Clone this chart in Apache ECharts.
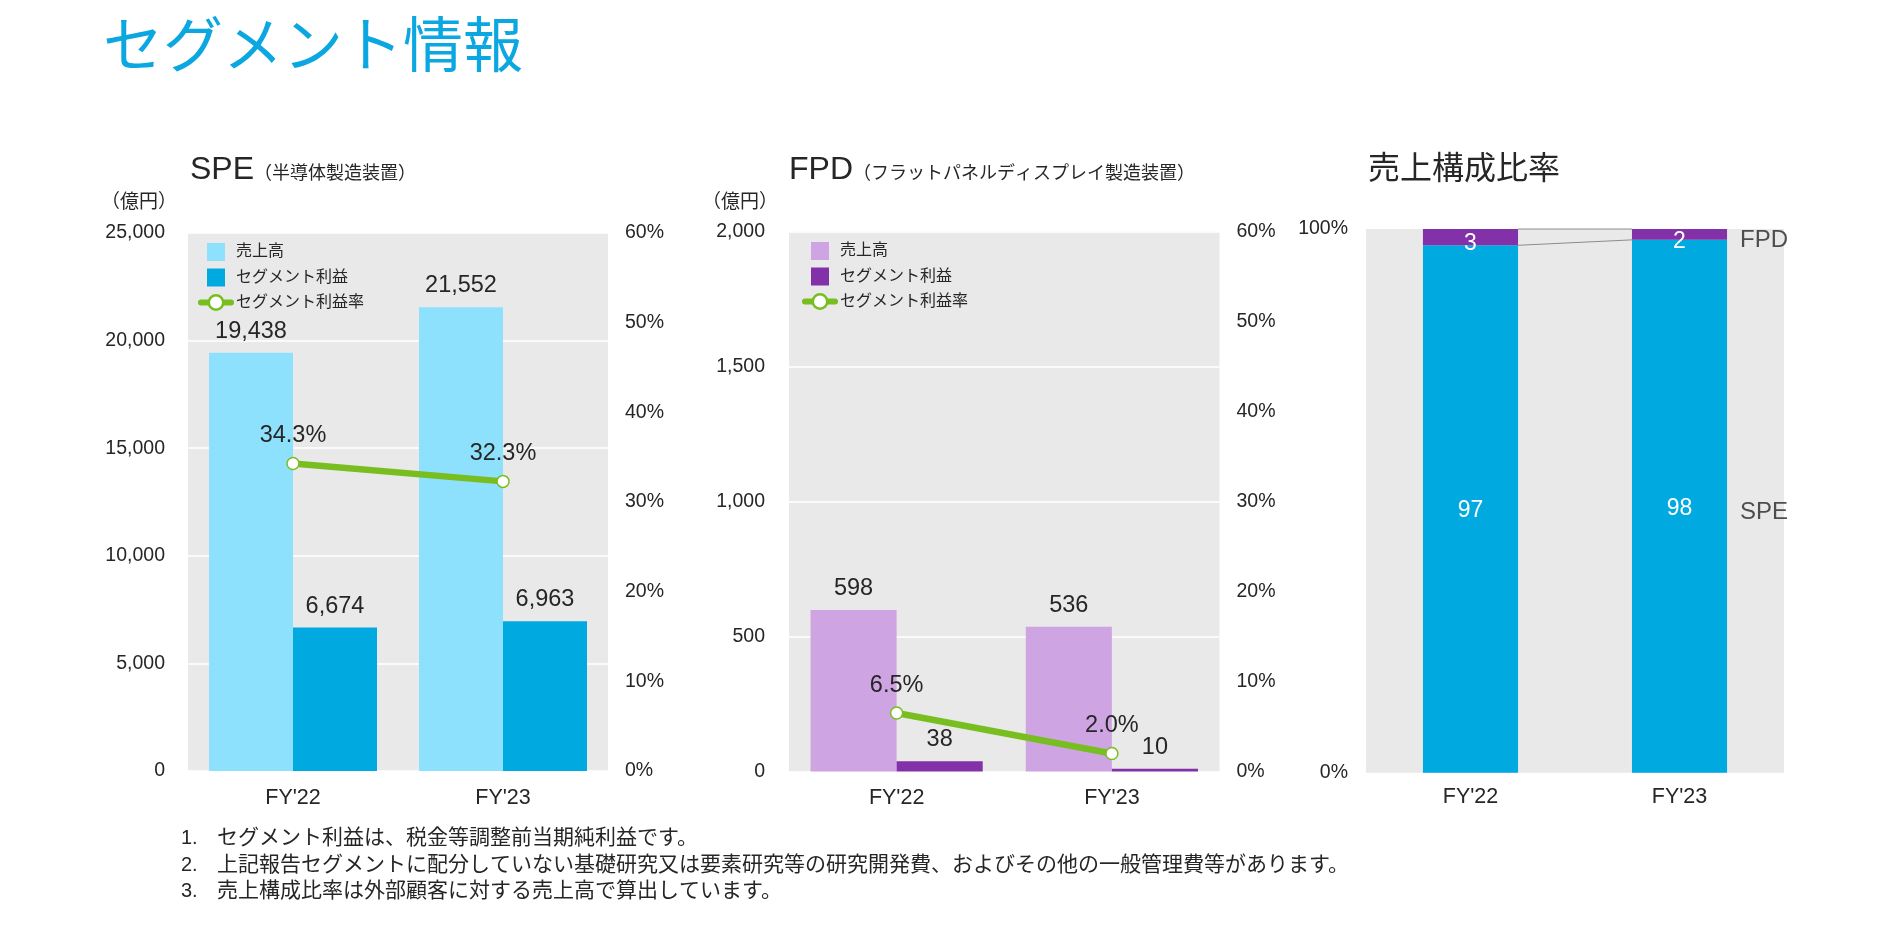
<!DOCTYPE html>
<html><head><meta charset="utf-8">
<script src="https://cdn.jsdelivr.net/npm/echarts@6/dist/echarts.min.js"></script>
<style>html,body{margin:0;padding:0;background:#fff}#c{width:1891px;height:928px}</style>
</head><body><div id="c"></div>
<script>
// ---- data ----
const categories = ["FY'22", "FY'23"];
const speSales = [19438, 21552];
const speProfit = [6674, 6963];
const speMargin = [34.3, 32.3];
const fpdSales = [598, 536];
const fpdProfit = [38, 10];
const fpdMargin = [6.5, 2.0];
const shareSPE = [97, 98];
const shareFPD = [3, 2];
const seriesNames = ['売上高', 'セグメント利益', 'セグメント利益率'];
const footnotes = [
  'セグメント利益は、税金等調整前当期純利益です。',
  '上記報告セグメントに配分していない基礎研究又は要素研究等の研究開発費、およびその他の一般管理費等があります。',
  '売上構成比率は外部顧客に対する売上高で算出しています。'
];

// ---- styles ----
const FF = '"Liberation Sans", Arial, "Noto Sans CJK JP", sans-serif';
const TXT = '#262626';
const C = {
  lightBlue: '#8EE1FD', blue: '#00A9E0',
  lightPurple: '#CFA4E3', purple: '#8231A8',
  green: '#78BE20', bg: '#E9E9E9', title: '#0AA7E0'
};
const fmt = v => Number(v).toLocaleString('en-US');

const chart = echarts.init(document.getElementById('c'));

function legendFor(lightCol, darkCol, left, top) {
  return {
    orient: 'vertical', left: left, top: top, padding: 0,
    itemWidth: 30, itemHeight: 18, itemGap: 7.5,
    textStyle: { fontSize: 16, color: TXT, fontFamily: FF },
    selectedMode: false,
    data: [
      { name: seriesNames[0], icon: 'path://M0,0H10V10H0Z', itemStyle: { color: lightCol } },
      { name: seriesNames[1], icon: 'path://M0,0H10V10H0Z', itemStyle: { color: darkCol } },
      { name: seriesNames[2], itemStyle: { color: '#fff', borderColor: C.green, borderWidth: 2.5 },
        lineStyle: { color: C.green, width: 6, cap: 'round' } }
    ]
  };
}

const barLabel = {
  show: true, position: 'top', distance: 9.5, fontSize: 23.5, color: TXT, fontFamily: FF,
  formatter: p => fmt(p.value)
};
const lineLabel = {
  show: true, position: 'top', distance: 9, fontSize: 23.5, color: TXT, fontFamily: FF,
  formatter: p => Number(p.value).toFixed(1) + '%'
};
const axisLbl = (extra) => Object.assign({ fontSize: 19.5, color: TXT, fontFamily: FF }, extra);
const catAxis = (gi, margin) => ({
  type: 'category', gridIndex: gi, data: categories,
  axisLine: { show: false }, axisTick: { show: false },
  axisLabel: { fontSize: 21.5, color: TXT, fontFamily: FF, margin: margin }
});

const option = {
  backgroundColor: '#fff',
  animation: false,
  grid: [
    { left: 188, top: 233, width: 420, height: 538, show: true, backgroundColor: C.bg, borderWidth: 0, outerBoundsMode: 'none' },
    { left: 789, top: 231.5, width: 430.5, height: 540, show: true, backgroundColor: C.bg, borderWidth: 0, outerBoundsMode: 'none' },
    { left: 1366, top: 229, width: 418, height: 543.7, show: true, backgroundColor: C.bg, borderWidth: 0, outerBoundsMode: 'none' }
  ],
  legend: [legendFor(C.lightBlue, C.blue, 198, 243), legendFor(C.lightPurple, C.purple, 802, 242)],
  xAxis: [catAxis(0, 16), catAxis(1, 16), catAxis(2, 14)],
  yAxis: [
    { type: 'value', gridIndex: 0, min: 0, max: 25000, interval: 5000,
      axisLine: { show: false }, axisTick: { show: false },
      axisLabel: axisLbl({ margin: 23, formatter: v => fmt(v) }),
      splitLine: { show: true, lineStyle: { color: '#fff', width: 1.5 } } },
    { type: 'value', gridIndex: 0, position: 'right', min: 0, max: 60, interval: 10,
      axisLine: { show: false }, axisTick: { show: false },
      axisLabel: axisLbl({ margin: 17, formatter: '{value}%' }), splitLine: { show: false } },
    { type: 'value', gridIndex: 1, min: 0, max: 2000, interval: 500,
      axisLine: { show: false }, axisTick: { show: false },
      axisLabel: axisLbl({ margin: 24, formatter: v => fmt(v) }),
      splitLine: { show: true, lineStyle: { color: '#fff', width: 1.5 } } },
    { type: 'value', gridIndex: 1, position: 'right', min: 0, max: 60, interval: 10,
      axisLine: { show: false }, axisTick: { show: false },
      axisLabel: axisLbl({ margin: 17, formatter: '{value}%' }), splitLine: { show: false } },
    { type: 'value', gridIndex: 2, min: 0, max: 100, interval: 100,
      axisLine: { show: false }, axisTick: { show: false },
      axisLabel: axisLbl({ margin: 18, formatter: '{value}%' }), splitLine: { show: false } }
  ],
  series: [
    // SPE
    { type: 'bar', name: seriesNames[0], xAxisIndex: 0, yAxisIndex: 0, data: speSales,
      barWidth: '40%', barGap: '0%', itemStyle: { color: C.lightBlue }, label: barLabel },
    { type: 'bar', name: seriesNames[1], xAxisIndex: 0, yAxisIndex: 0, data: speProfit,
      barWidth: '40%', barGap: '0%', itemStyle: { color: C.blue }, label: barLabel },
    { type: 'line', name: seriesNames[2], xAxisIndex: 0, yAxisIndex: 1, data: speMargin, z: 5,
      symbol: 'circle', symbolSize: 12,
      itemStyle: { color: '#fff', borderColor: C.green, borderWidth: 1.5 },
      lineStyle: { color: C.green, width: 6.5 }, label: lineLabel },
    // FPD
    { type: 'bar', name: seriesNames[0], xAxisIndex: 1, yAxisIndex: 2, data: fpdSales,
      barWidth: '40%', barGap: '0%', itemStyle: { color: C.lightPurple }, label: barLabel },
    { type: 'bar', name: seriesNames[1], xAxisIndex: 1, yAxisIndex: 2, data: fpdProfit,
      barWidth: '40%', barGap: '0%', itemStyle: { color: C.purple }, label: barLabel },
    { type: 'line', name: seriesNames[2], xAxisIndex: 1, yAxisIndex: 3, data: fpdMargin, z: 5,
      symbol: 'circle', symbolSize: 12,
      itemStyle: { color: '#fff', borderColor: C.green, borderWidth: 1.5 },
      lineStyle: { color: C.green, width: 6.5 }, label: lineLabel },
    // share
    { type: 'bar', name: 'SPE', xAxisIndex: 2, yAxisIndex: 4, stack: 'share', data: shareSPE,
      barWidth: '45.5%', itemStyle: { color: C.blue },
      label: { show: true, position: 'inside', color: '#fff', fontSize: 23, fontFamily: FF, offset: [0, 2] } },
    { type: 'bar', name: 'FPD', xAxisIndex: 2, yAxisIndex: 4, stack: 'share', data: shareFPD,
      barWidth: '45.5%', itemStyle: { color: C.purple },
      label: { show: true, position: 'inside', color: '#fff', fontSize: 23, fontFamily: FF, offset: [0, 7] } },
    { type: 'custom', xAxisIndex: 2, yAxisIndex: 4, z: 1,
      data: [[0, shareSPE[0] + shareFPD[0], shareSPE[1] + shareFPD[1], shareSPE[0], shareSPE[1]]],
      renderItem: (params, api) => {
        const hw = api.size([1, 0])[0] * 0.455 / 2;
        const a1 = api.coord([0, api.value(1)]), a2 = api.coord([1, api.value(2)]);
        const b1 = api.coord([0, api.value(3)]), b2 = api.coord([1, api.value(4)]);
        const st = { stroke: '#8C8C8C', lineWidth: 1 };
        return { type: 'group', children: [
          { type: 'line', shape: { x1: a1[0] + hw, y1: a1[1], x2: a2[0] - hw, y2: a2[1] }, style: st },
          { type: 'line', shape: { x1: b1[0] + hw, y1: b1[1], x2: b2[0] - hw, y2: b2[1] }, style: st }
        ]};
      } },
    { type: 'scatter', xAxisIndex: 2, yAxisIndex: 4, symbolSize: 1, silent: true,
      itemStyle: { color: 'rgba(0,0,0,0)' },
      data: [
        { value: [1, shareSPE[1] / 2], name: 'SPE' },
        { value: [1, shareSPE[1] + shareFPD[1] / 2], name: 'FPD' }
      ],
      label: { show: true, position: 'right', distance: 60, fontSize: 24, color: TXT, fontFamily: FF,
        offset: [0, 6], formatter: p => p.name } }
  ],
  graphic: [
    { type: 'text', left: 103, top: 14, style: { text: 'セグメント情報', font: '60px "Noto Sans CJK JP", sans-serif', fill: C.title } },
    { type: 'text', x: 190, y: 170.5, style: { text: 'SPE', font: '32px ' + FF, fill: TXT, textVerticalAlign: 'middle' } },
    { type: 'text', x: 254, y: 174, style: { text: '（半導体製造装置）', font: '18px ' + FF, fill: TXT, textVerticalAlign: 'middle' } },
    { type: 'text', x: 789, y: 170.5, style: { text: 'FPD', font: '32px ' + FF, fill: TXT, textVerticalAlign: 'middle' } },
    { type: 'text', x: 853, y: 174, style: { text: '（フラットパネルディスプレイ製造装置）', font: '18px ' + FF, fill: TXT, textVerticalAlign: 'middle' } },
    { type: 'text', x: 1368, y: 170, style: { text: '売上構成比率', font: '32px ' + FF, fill: TXT, textVerticalAlign: 'middle' } },
    { type: 'text', x: 177, y: 203, style: { text: '（億円）', font: '19px ' + FF, fill: TXT, textAlign: 'right', textVerticalAlign: 'middle' } },
    { type: 'text', x: 778, y: 203, style: { text: '（億円）', font: '19px ' + FF, fill: TXT, textAlign: 'right', textVerticalAlign: 'middle' } },
    ...footnotes.flatMap((t, i) => [
      { type: 'text', x: 181, y: 838.5 + i * 26.5, style: { text: (i + 1) + '.', font: '20px ' + FF, fill: TXT, textVerticalAlign: 'middle' } },
      { type: 'text', x: 217, y: 838.5 + i * 26.5, style: { text: t, font: '21px ' + FF, fill: TXT, textVerticalAlign: 'middle' } }
    ])
  ]
};
chart.setOption(option);
</script>
</body></html>
